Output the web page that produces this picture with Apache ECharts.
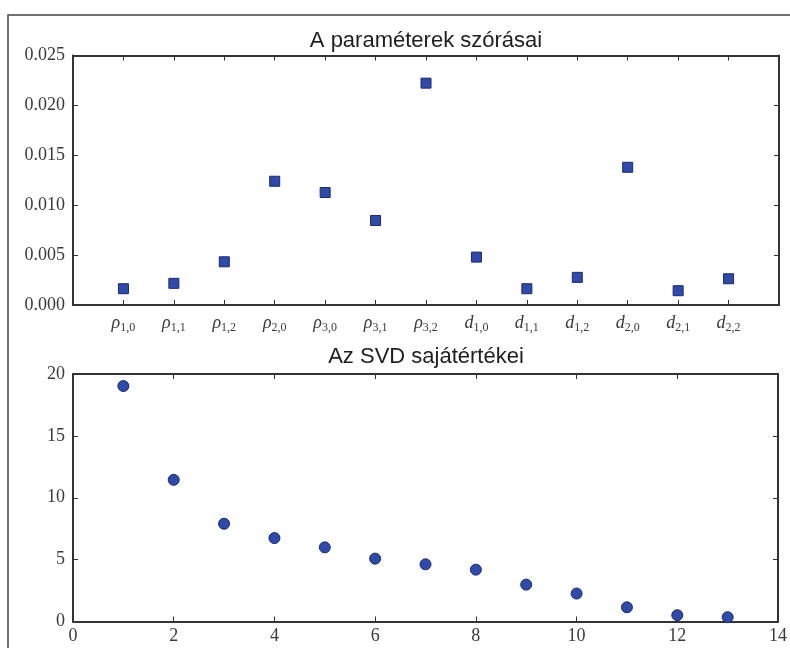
<!DOCTYPE html>
<html><head><meta charset="utf-8">
<script src="https://cdn.jsdelivr.net/npm/echarts@6/dist/echarts.min.js"></script>
<style>html,body{margin:0;padding:0;background:#fff}#c{width:790px;height:648px}</style>
</head><body><div id="c"></div>
<script>
// ---- data ----
const paramSymbols = ['ρ','ρ','ρ','ρ','ρ','ρ','ρ','d','d','d','d','d','d'];
const paramSubs    = ['1,0','1,1','1,2','2,0','3,0','3,1','3,2','1,0','1,1','1,2','2,0','2,1','2,2'];
const paramStd     = [0.00163,0.00217,0.00433,0.0124,0.01127,0.00847,0.02223,0.0048,0.00163,0.00277,0.0138,0.00143,0.00263];
const svdIndex     = [1,2,3,4,5,6,7,8,9,10,11,12,13];
const svdValues    = [19.03,11.45,7.90,6.74,5.99,5.08,4.62,4.19,2.98,2.26,1.15,0.51,0.35];
const titleTop = 'A paraméterek szórásai';
const titleBottom = 'Az SVD sajátértékei';

// ---- chart ----
const serif = '"Liberation Serif", "Times New Roman", serif';
const lineCol = '#333';
const labelCol = '#3a3a3a';
const markFill = '#2f4aa8';
const markEdge = '#1b2a6b';

function axisCommon(gridIndex, pos, showLabel, extra) {
  return Object.assign({
    gridIndex: gridIndex, type: 'value', position: pos,
    axisLine: { show: true, onZero: false, lineStyle: { color: lineCol, width: 2 } },
    axisTick: { show: true, inside: true, length: 5, lineStyle: { color: lineCol, width: 1 } },
    splitLine: { show: false },
    axisLabel: { show: showLabel, color: labelCol, fontFamily: serif, fontSize: 18 }
  }, extra);
}

const chart = echarts.init(document.getElementById('c'), null, { renderer: 'canvas' });
const option = {
  animation: false,
  backgroundColor: '#fff',
  grid: [
    { left: 73, top: 55.5, width: 706, height: 249.5, containLabel: false },
    { left: 73, top: 374, width: 706, height: 247.5, containLabel: false }
  ],
  xAxis: [
    axisCommon(0, 'bottom', true, { min: 0, max: 14, interval: 1,
      axisLabel: { show: true, margin: 7, showMinLabel: true, showMaxLabel: true,
        formatter: function (v) {
          const i = Math.round(v) - 1;
          if (i < 0 || i >= paramSymbols.length) return '';
          return '{b|' + paramSymbols[i] + '}{s|' + paramSubs[i] + '}';
        },
        rich: {
          b: { fontFamily: serif, fontStyle: 'italic', fontSize: 18, color: labelCol, lineHeight: 22, verticalAlign: 'middle' },
          s: { fontFamily: serif, fontSize: 12, color: labelCol, lineHeight: 10, verticalAlign: 'bottom' }
        } } }),
    axisCommon(0, 'top', false, { min: 0, max: 14, interval: 1 }),
    axisCommon(1, 'bottom', true, { min: 0, max: 14, interval: 2,
      axisLabel: { show: true, color: labelCol, fontFamily: serif, fontSize: 18, margin: 6 } }),
    axisCommon(1, 'top', false, { min: 0, max: 14, interval: 2 })
  ],
  yAxis: [
    axisCommon(0, 'left', true, { min: 0, max: 0.025, interval: 0.005,
      axisLabel: { show: true, color: labelCol, fontFamily: serif, fontSize: 18, margin: 8,
        formatter: function (v) { return v.toFixed(3); } } }),
    axisCommon(0, 'right', false, { min: 0, max: 0.025, interval: 0.005 }),
    axisCommon(1, 'left', true, { min: 0, max: 20, interval: 5,
      axisLabel: { show: true, color: labelCol, fontFamily: serif, fontSize: 18, margin: 8 } }),
    axisCommon(1, 'right', false, { min: 0, max: 20, interval: 5 })
  ],
  series: [
    { type: 'scatter', xAxisIndex: 0, yAxisIndex: 0, symbol: 'rect', symbolSize: 10,
      itemStyle: { color: markFill, borderColor: markEdge, borderWidth: 1, opacity: 1 },
      data: paramStd.map(function (v, i) { return [i + 1, v]; }) },
    { type: 'scatter', xAxisIndex: 2, yAxisIndex: 2, symbol: 'circle', symbolSize: 11,
      itemStyle: { color: markFill, borderColor: markEdge, borderWidth: 1, opacity: 1 },
      data: svdValues.map(function (v, i) { return [svdIndex[i], v]; }) }
  ],
  graphic: [
    { type: 'rect', shape: { x: 8, y: 15, width: 900, height: 800 }, silent: true,
      style: { fill: 'none', stroke: '#444', lineWidth: 1.5 } },
    { type: 'text', x: 426, y: 40.5, silent: true,
      style: { text: titleTop, font: '22px "Liberation Sans", Arial, sans-serif', fill: '#1e1e1e',
        textAlign: 'center', textVerticalAlign: 'middle', align: 'center', verticalAlign: 'middle' } },
    { type: 'text', x: 426, y: 357, silent: true,
      style: { text: titleBottom, font: '22px "Liberation Sans", Arial, sans-serif', fill: '#1e1e1e',
        textAlign: 'center', textVerticalAlign: 'middle', align: 'center', verticalAlign: 'middle' } }
  ]
};
chart.setOption(option);
</script>
</body></html>
